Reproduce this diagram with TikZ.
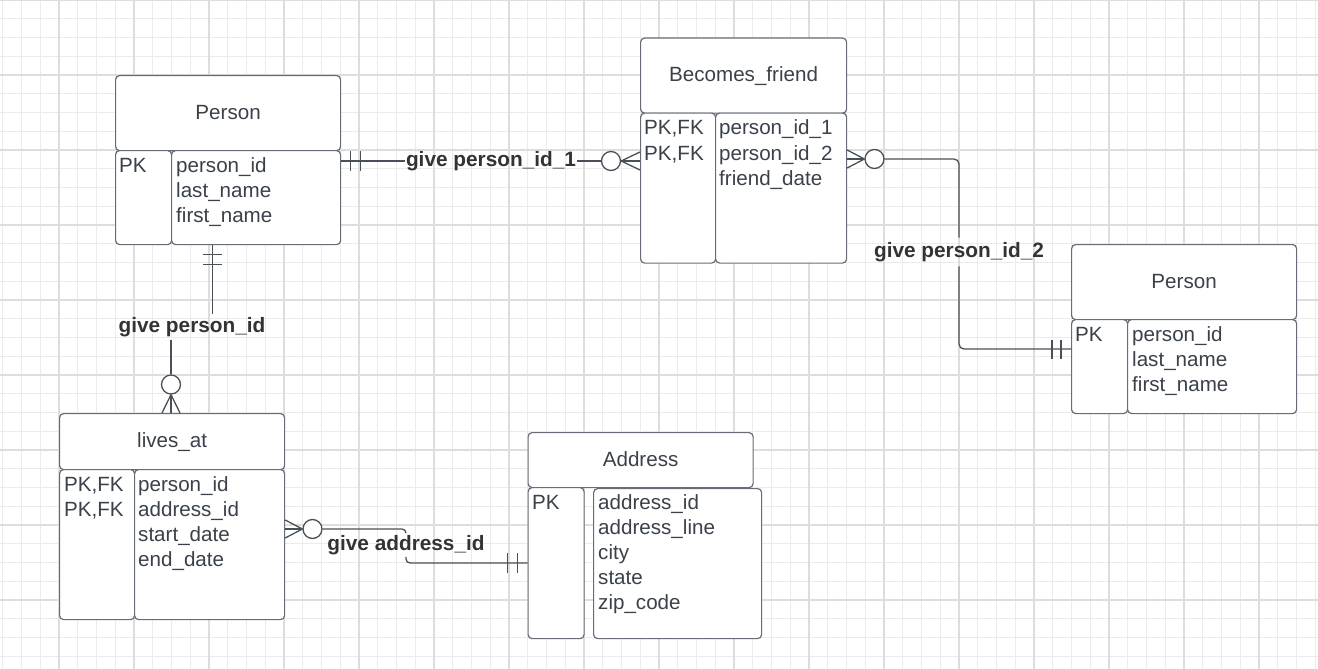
\documentclass[tikz,border=0pt]{standalone}
\usepackage{fontspec}
\setmainfont{Liberation Sans}
\usetikzlibrary{calc}
\definecolor{gridminor}{HTML}{EBEBEB}
\definecolor{gridmajor}{HTML}{DDDDDD}
\definecolor{boxc}{HTML}{676D77}
\definecolor{txtc}{HTML}{3A414A}
\definecolor{linec}{HTML}{4A5059}
\definecolor{lblc}{HTML}{333333}
\begin{document}
\begin{tikzpicture}[x=1pt,y=-1pt,
  box/.style={draw=boxc, fill=white, line width=1.2pt, rounded corners=4pt, inner sep=0pt, anchor=north west},
  title/.style={font=\fontsize{20.6}{25}\selectfont, text=txtc, anchor=base, inner sep=0pt},
  attr/.style={font=\fontsize{20.6}{25}\selectfont, text=txtc, anchor=base west, inner sep=0pt},
  lbl/.style={font=\fontsize{20.8}{25}\selectfont\bfseries, text=lblc, inner xsep=1pt, inner ysep=4.5pt},
  conn/.style={draw=linec, line width=1.3pt},
  opt/.style={circle, draw=linec, line width=1.3pt, fill=white, minimum size=19pt, inner sep=0pt},
  gmin/.style={draw=gridminor, line width=1pt},
  gmaj/.style={draw=gridmajor, line width=2pt}]
\fill[white] (0,0) rectangle (1318,669);
\useasboundingbox (0,0) rectangle (1318,669);
% grid
\foreach \i in {0,...,70} \draw[gmin] ({2.75+18.75*\i},0) -- ({2.75+18.75*\i},669);
\foreach \j in {1,...,35} \draw[gmin] (0,{18.75*\j}) -- (1318,{18.75*\j});
\foreach \i in {0,...,16} \draw[gmaj] ({59+75*\i},0) -- ({59+75*\i},669);
\foreach \j in {0,...,8} \draw[gmaj] (0,{75*\j}) -- (1318,{75*\j});

% ---------- Person (left)
\node[box, minimum width=225, minimum height=75] (p1H) at (115,75) {};
\node[title] (p1T) at ($(p1H.center)+(0,6)$) {Person};
\node[box, minimum width=56, minimum height=94] (p1K) at (115,150) {};
\node[box, minimum width=169, minimum height=94] (p1A) at (171,150) {};
\node[attr] (p1k1) at (119,172) {PK};
\foreach \t [count=\k] in {person\_id,last\_name,first\_name}
  \node[attr] (p1a\k) at (176,{172+25*(\k-1)}) {\t};

% ---------- Becomes_friend
\node[box, minimum width=206, minimum height=75] (bfH) at (640,37.5) {};
\node[title] (bfT) at ($(bfH.center)+(0,6)$) {Becomes\_friend};
\node[box, minimum width=75, minimum height=150] (bfK) at (640,112.5) {};
\node[box, minimum width=131, minimum height=150] (bfA) at (715,112.5) {};
\foreach \t [count=\k] in {{PK,FK},{PK,FK}}
  \node[attr] (bfk\k) at (644,{135+25*(\k-1)}) {\t};
\foreach \t [count=\k] in {person\_id\_1,person\_id\_2,friend\_date}
  \node[attr] (bfa\k) at (719,{135+25*(\k-1)}) {\t};

% ---------- Person (right)
\node[box, minimum width=225, minimum height=75] (p2H) at (1071,244) {};
\node[title] (p2T) at ($(p2H.center)+(0,6)$) {Person};
\node[box, minimum width=56, minimum height=94] (p2K) at (1071,319) {};
\node[box, minimum width=169, minimum height=94] (p2A) at (1127,319) {};
\node[attr] (p2k1) at (1075,341) {PK};
\foreach \t [count=\k] in {person\_id,last\_name,first\_name}
  \node[attr] (p2a\k) at (1132,{341+25*(\k-1)}) {\t};

% ---------- lives_at
\node[box, minimum width=225, minimum height=56] (lvH) at (59,413) {};
\node[title] (lvT) at ($(lvH.center)+(0,6)$) {lives\_at};
\node[box, minimum width=75, minimum height=150] (lvK) at (59,469) {};
\node[box, minimum width=150, minimum height=150] (lvA) at (134,469) {};
\foreach \t [count=\k] in {{PK,FK},{PK,FK}}
  \node[attr] (lvk\k) at (64,{491+25*(\k-1)}) {\t};
\foreach \t [count=\k] in {person\_id,address\_id,start\_date,end\_date}
  \node[attr] (lva\k) at (138,{491+25*(\k-1)}) {\t};

% ---------- Address
\node[box, minimum width=225, minimum height=55] (adH) at (527.5,432) {};
\node[title] (adT) at ($(adH.center)+(0,6)$) {Address};
\node[box, minimum width=56, minimum height=151] (adK) at (527.5,487) {};
\node[box, minimum width=168, minimum height=150] (adA) at (593,488) {};
\node[attr] (adk1) at (532,509) {PK};
\foreach \t [count=\k] in {address\_id,address\_line,city,state,zip\_code}
  \node[attr] (ada\k) at (598,{509+25*(\k-1)}) {\t};

% ---------- connector 1: Person -> Becomes_friend
\node[lbl] (l1) at (491,161) {give person\_id\_1};
\node[opt] (o1) at (611,161) {};
\coordinate (c1s) at (p1A.east |- l1);
\draw[conn] (c1s) -- (l1);
\draw[conn] (l1) -- (o1);
\draw[conn] (o1.east) -- (bfK.west |- o1);
\draw[conn] (o1.east) -- ($(bfK.west |- o1)+(0,-9)$);
\draw[conn] (o1.east) -- ($(bfK.west |- o1)+(0,9)$);
\draw[conn] ($(c1s)+(9,-10)$) -- ++(0,20);
\draw[conn] ($(c1s)+(19,-10)$) -- ++(0,20);

% ---------- connector 2: Becomes_friend -> Person (right)
\node[lbl] (l2) at (959,252) {give person\_id\_2};
\node[opt] (o2) at (874.5,159) {};
\coordinate (c2e) at ($(p2K.north west)+(0,30)$);
\draw[conn] (o2.west) -- (bfA.east |- o2);
\draw[conn] (o2.west) -- ($(bfA.east |- o2)+(0,-9)$);
\draw[conn] (o2.west) -- ($(bfA.east |- o2)+(0,9)$);
\draw[conn, rounded corners=5pt] (o2) -| (l2);
\draw[conn, rounded corners=5pt] (l2) |- (c2e);
\draw[conn] ($(c2e)+(-19,-9.5)$) -- ++(0,19);
\draw[conn] ($(c2e)+(-10,-9.5)$) -- ++(0,19);

% ---------- connector 3: Person -> lives_at
\node[lbl, inner ysep=3.5pt] (l3) at (192,327) {give person\_id};
\node[opt] (o3) at (171,384.5) {};
\coordinate (c3s) at ($(p1A.south west)+(41.5,0)$);
\draw[conn] (c3s) -- (c3s |- l3.north);
\draw[conn] (o3 |- l3.south) -- (o3);
\draw[conn] (o3.south) -- (lvH.north -| o3);
\draw[conn] (o3.south) -- ($(lvH.north -| o3)+(-9,0)$);
\draw[conn] (o3.south) -- ($(lvH.north -| o3)+(9,0)$);
\draw[conn] ($(c3s)+(-9.5,9.5)$) -- ++(19,0);
\draw[conn] ($(c3s)+(-9.5,19.5)$) -- ++(19,0);

% ---------- connector 4: lives_at -> Address
\node[lbl, inner ysep=2pt] (l4) at (406,545) {give address\_id};
\node[opt] (o4) at (312.5,529) {};
\coordinate (c4e) at ($(adK.north west)+(0,76)$);
\draw[conn] (o4.west) -- (lvA.east |- o4);
\draw[conn] (o4.west) -- ($(lvA.east |- o4)+(0,-9)$);
\draw[conn] (o4.west) -- ($(lvA.east |- o4)+(0,9)$);
\draw[conn, rounded corners=4pt] (o4) -| (l4);
\draw[conn, rounded corners=4pt] (l4) |- (c4e);
\draw[conn] ($(c4e)+(-20,-10)$) -- ++(0,20);
\draw[conn] ($(c4e)+(-10,-10)$) -- ++(0,20);
\end{tikzpicture}
\end{document}
